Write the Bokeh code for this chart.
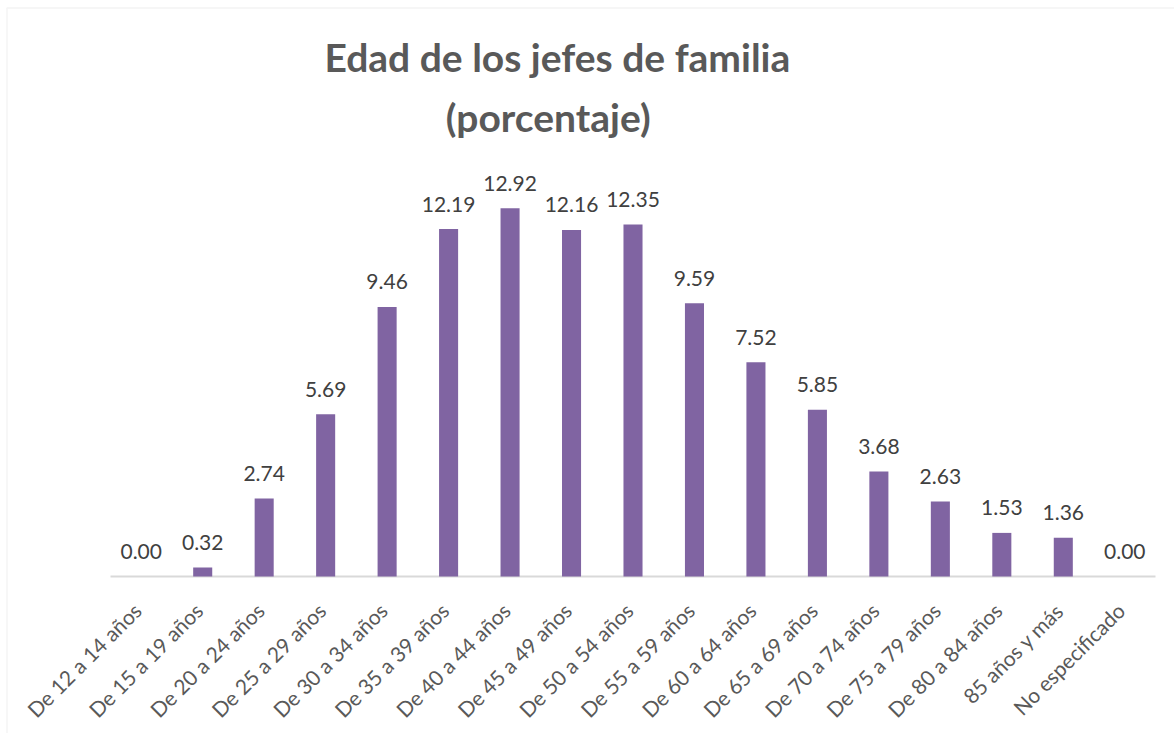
import math
from bokeh.plotting import figure
from bokeh.models import ColumnDataSource, Range1d, Label, BoxAnnotation
from bokeh.core.properties import value
from bokeh.embed import file_html
from bokeh.resources import INLINE

categories = ["De 12 a 14 años", "De 15 a 19 años", "De 20 a 24 años", "De 25 a 29 años",
              "De 30 a 34 años", "De 35 a 39 años", "De 40 a 44 años", "De 45 a 49 años",
              "De 50 a 54 años", "De 55 a 59 años", "De 60 a 64 años", "De 65 a 69 años",
              "De 70 a 74 años", "De 75 a 79 años", "De 80 a 84 años", "85 años y más",
              "No especificado"]
porcentaje = [0.00, 0.32, 2.74, 5.69, 9.46, 12.19, 12.92, 12.16, 12.35, 9.59,
              7.52, 5.85, 3.68, 2.63, 1.53, 1.36, 0.00]
title_lines = ["Edad de los jefes de familia", "(porcentaje)"]

n = len(categories)
idx = list(range(n))
zeros = [0] * n
src = ColumnDataSource(dict(x=idx, top=porcentaje, base=zeros, cat=categories,
                            label=["%.2f" % v for v in porcentaje]))

W, H = 1174, 733
unit_x = 1045 / n          # px per category band
unit_y = 28.5              # px per percentage point
x_start = -0.5 - 110 / unit_x
x_end = n - 0.5 + (W - 1155) / unit_x
y_end = 576 / unit_y
y_start = -(H - 576) / unit_y

p = figure(width=W, height=H, output_backend="svg", toolbar_location=None,
           x_range=Range1d(x_start, x_end), y_range=Range1d(y_start, y_end),
           x_axis_location=None, y_axis_location=None,
           min_border_left=0, min_border_right=0, min_border_top=0, min_border_bottom=0)
p.outline_line_color = None
p.xgrid.visible = False
p.ygrid.visible = False
p.background_fill_color = "white"
p.border_fill_color = "white"

# chart area border (top and left visible)
p.add_layout(BoxAnnotation(left=6.5, right=1400, top=7.5, bottom=1000,
                           left_units="canvas", right_units="canvas",
                           top_units="canvas", bottom_units="canvas",
                           fill_color=None, line_color="#d9d9d9", line_width=1.5))

# category axis baseline
p.segment(x0=[-0.5], y0=[0], x1=[n - 0.5], y1=[0], line_color="#d9d9d9", line_width=2)

p.vbar(x="x", top="top", width=0.31, source=src, fill_color="#8064A2", line_color=None)
p.text(x="x", y="top", text="label", source=src, text_align="center",
       text_baseline="alphabetic", y_offset=-25, text_font=value("Lato"),
       text_font_size="21px", text_color="#404040")

# rotated category labels
p.text(x="x", y="base", text="cat", source=src, angle=math.pi / 4,
       text_align="right", text_baseline="middle", x_offset=-4, y_offset=30,
       text_font=value("Lato"), text_font_size="21px", text_color="#595959")

p.add_layout(Label(x=6.77, y=18.24, text=title_lines[0], text_align="center",
                   text_baseline="alphabetic", text_font="Lato", text_font_style="bold",
                   text_font_size="39px", text_color="#595959"))
p.add_layout(Label(x=6.62, y=16.14, text=title_lines[1], text_align="center",
                   text_baseline="alphabetic", text_font="Lato", text_font_style="bold",
                   text_font_size="39px", text_color="#595959"))

open("out.html", "w").write(file_html(p, INLINE))
